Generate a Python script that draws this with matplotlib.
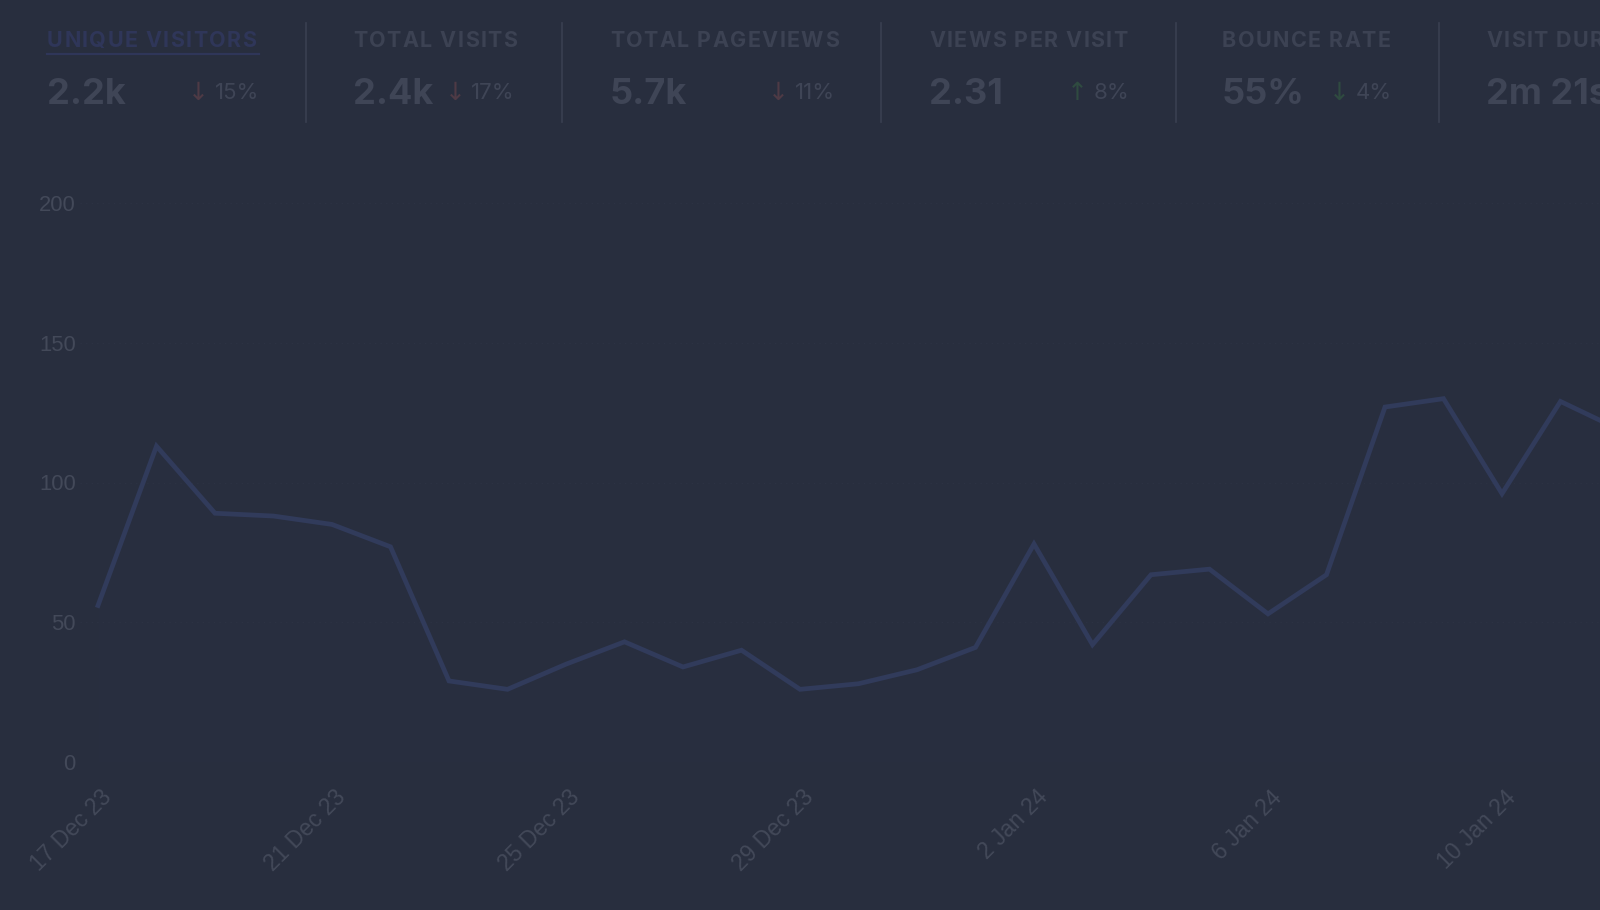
import matplotlib
matplotlib.use("Agg")
import matplotlib.pyplot as plt
from matplotlib.transforms import ScaledTranslation

# ---- data ----
visitors = [56, 113, 89, 88, 85, 77, 29, 26, 35, 43, 34, 40, 26, 28,
            33, 41, 78, 42, 67, 69, 53, 67, 127, 130, 96, 129, 119]
tick_idx = [0, 4, 8, 12, 16, 20, 24]
tick_labels = ["17 Dec 23", "21 Dec 23", "25 Dec 23", "29 Dec 23",
               "2 Jan 24", "6 Jan 24", "10 Jan 24"]
y_ticks = [0, 50, 100, 150, 200]

card_titles = ["UNIQUE VISITORS", "TOTAL VISITS", "TOTAL PAGEVIEWS",
               "VIEWS PER VISIT", "BOUNCE RATE", "VISIT DURATION"]
card_values = ["2.2k", "2.4k", "5.7k", "2.31", "55%", "2m 21s"]
card_changes = ["15%", "17%", "11%", "8%", "4%", None]
card_arrows = ["↓", "↓", "↓", "↑", "↓", None]
card_good = [False, False, False, True, True, None]

# ---- style ----
BG = "#282e3e"
TICK = "#434959"
TITLE = "#3c4253"
VALUE = "#3f4556"
ACTIVE = "#2f3659"
SEP = "#3a4051"
LINE = "#313b5b"
RED = "#4e3a45"
GREEN = "#2f4b40"

W, H = 1600, 910
fig = plt.figure(figsize=(W / 100, H / 100), dpi=100, facecolor=BG)
renderer = fig.canvas.get_renderer()


def fx(x):
    return x / W


def fy(y):
    return 1 - y / H


def text_width(s, **kw):
    t = fig.text(0, 0, s, **kw)
    w = t.get_window_extent(renderer).width
    t.remove()
    return w


def tracked_text(x, y, s, tracking, **kw):
    """Draw uppercase label with letter spacing (pixels)."""
    ref = text_width("X", **kw)
    for k, ch in enumerate(s):
        if ch == " ":
            continue
        off = text_width(s[:k] + "X", **kw) - ref if k else 0
        fig.text(fx(x + off + k * tracking), fy(y), ch, ha="left",
                 va="baseline", **kw)


# ---- chart ----
x0_px, step_px = 98, 58.5
ax_left, y0_px, y200_px = 80, 762, 203
ax = fig.add_axes([fx(ax_left), fy(y0_px), 1 - fx(ax_left),
                   (y0_px - y200_px) / H])
ax.set_facecolor(BG)
xs = list(range(len(visitors)))
ax.fill_between(xs, visitors, 0, color=LINE, alpha=0.06, lw=0)
ax.plot(xs, visitors, color=LINE, lw=3.4, solid_joinstyle="miter",
        clip_on=False)
ax.set_xlim((ax_left - x0_px) / step_px, (W - x0_px) / step_px)
ax.set_ylim(0, 200)

for s in ax.spines.values():
    s.set_visible(False)
ax.set_yticks(y_ticks)
ax.grid(axis="y", color="#2c3243", lw=1, ls=(0, (1, 3)))
ax.tick_params(axis="y", length=0, pad=3, labelsize=15.8, labelcolor=TICK)
ax.set_xticks(tick_idx)
ax.set_xticklabels(tick_labels, rotation=45, ha="right", va="center",
                   rotation_mode="anchor")
ax.tick_params(axis="x", length=0, pad=23, labelsize=16.5, labelcolor=TICK)
for lab in ax.get_xticklabels() + ax.get_yticklabels():
    lab.set_family("Liberation Sans")
for lab in ax.get_xticklabels():
    lab.set_transform(lab.get_transform() +
                      ScaledTranslation(10 / 100, 0, fig.dpi_scale_trans))

# ---- header cards (pixel layout) ----
title_left = [47, 353, 610, 929, 1222, 1486]
title_right = [259, 515, 835, 1129, 1392, None]
sep_x = [306, 562, 881, 1176, 1439]

for i, t in enumerate(card_titles):
    tracked_text(title_left[i], 47, t, 1.4, family="Inter", weight="bold",
                 fontsize=15.5, color=ACTIVE if i == 0 else TITLE)
    fig.text(fx(title_left[i]), fy(104), card_values[i], family="Inter",
             weight="bold", fontsize=26, color=VALUE, ha="left",
             va="baseline")
    if card_changes[i] is not None:
        pct = fig.text(fx(title_right[i]), fy(99), card_changes[i],
                       family="Inter", fontsize=16, color=VALUE,
                       ha="right", va="baseline")
        ax.annotate(card_arrows[i], xy=(0, 0.5), xycoords=pct,
                    xytext=(-4, 0), textcoords="offset points",
                    ha="right", va="center", family="DejaVu Sans",
                    fontsize=18, color=GREEN if card_good[i] else RED,
                    annotation_clip=False)

# underline of the active card
fig.add_artist(plt.Line2D([fx(47), fx(259)], [fy(54), fy(54)],
                          color=ACTIVE, lw=1.6))
for x in sep_x:
    fig.add_artist(plt.Line2D([fx(x), fx(x)], [fy(23), fy(122)],
                              color=SEP, lw=1.2))

fig.savefig("out.png", dpi=100, facecolor=BG)
